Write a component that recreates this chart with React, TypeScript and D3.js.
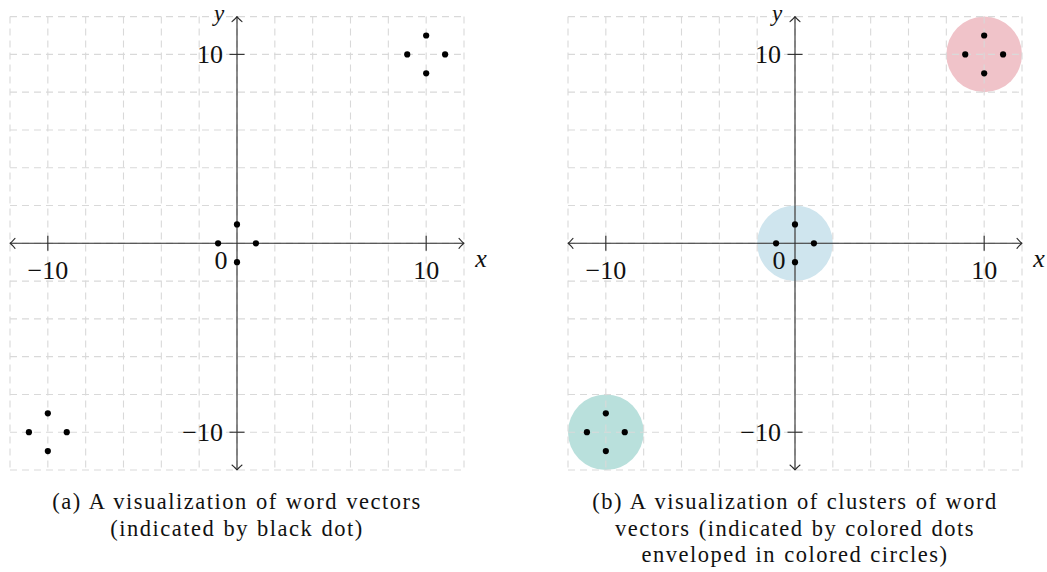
import React from "react";
import * as d3 from "d3";

// Word vector coordinates (shared by both panels)
const vectorX = [0, 0, -1, 1, 9, 11, 10, 10, -11, -9, -10, -10];
const vectorY = [1, -1, 0, 0, 10, 10, 11, 9, -10, -10, -9, -11];

// Cluster envelopes for panel (b)
const clusterX = [10, 0, -10];
const clusterY = [10, 0, -10];
const clusterR = [2, 2, 2];

// Axis settings
const axisMin = -12;
const axisMax = 12;
const gridStep = 2;
const tickValues = [-10, 10];

const captionA = ["(a) A visualization of word vectors", "(indicated by black dot)"];
const captionB = [
  "(b) A visualization of clusters of word",
  "vectors (indicated by colored dots",
  "enveloped in colored circles)",
];

const clusterColors = ["#f0c3c9", "#cfe5ee", "#b9e0dc"];
const SERIF = "'Liberation Serif', 'DejaVu Serif', serif";
const AXIS = "#2b2b2b";
const GRID = "#d9d9d9";

type PanelProps = {
  left: number;
  right: number;
  showClusters: boolean;
  caption: string[];
};

function Panel({ left, right, showClusters, caption }: PanelProps) {
  const x = d3.scaleLinear().domain([axisMin, axisMax]).range([left, right]);
  const y = d3.scaleLinear().domain([axisMin, axisMax]).range([470, 16.6]);
  const gridVals = d3.range(axisMin, axisMax + 0.001, gridStep);
  const x0 = x(0);
  const y0 = y(0);
  const tk = 7.5;
  const ah = 5; // arrowhead size
  const cx = (x(axisMin) + x(axisMax)) / 2;

  return (
    <g>
      {showClusters &&
        clusterX.map((cxv, i) => (
          <circle
            key={"c" + i}
            cx={x(cxv)}
            cy={y(clusterY[i])}
            r={x(clusterR[i]) - x(0)}
            fill={clusterColors[i]}
          />
        ))}
      {/* dashed grid */}
      {gridVals.map((v) => (
        <line
          key={"gv" + v}
          x1={x(v)}
          x2={x(v)}
          y1={y(axisMax)}
          y2={y(axisMin)}
          stroke={GRID}
          strokeWidth={1.1}
          strokeDasharray="7 5"
        />
      ))}
      {gridVals.map((v) => (
        <line
          key={"gh" + v}
          x1={x(axisMin)}
          x2={x(axisMax)}
          y1={y(v)}
          y2={y(v)}
          stroke={GRID}
          strokeWidth={1.1}
          strokeDasharray="7 5"
        />
      ))}
      {/* axes */}
      <line x1={x(axisMin)} x2={x(axisMax)} y1={y0} y2={y0} stroke={AXIS} strokeWidth={1.1} />
      <line x1={x0} x2={x0} y1={y(axisMax)} y2={y(axisMin)} stroke={AXIS} strokeWidth={1.1} />
      <g fill="none" stroke={AXIS} strokeWidth={1.1} strokeLinecap="round" strokeLinejoin="round">
        <path d={`M${x(axisMax) - ah},${y0 - ah} Q${x(axisMax) - 1.5},${y0 - 1} ${x(axisMax)},${y0} Q${x(axisMax) - 1.5},${y0 + 1} ${x(axisMax) - ah},${y0 + ah}`} />
        <path d={`M${x(axisMin) + ah},${y0 - ah} Q${x(axisMin) + 1.5},${y0 - 1} ${x(axisMin)},${y0} Q${x(axisMin) + 1.5},${y0 + 1} ${x(axisMin) + ah},${y0 + ah}`} />
        <path d={`M${x0 - ah},${y(axisMax) + ah} Q${x0 - 1},${y(axisMax) + 1.5} ${x0},${y(axisMax)} Q${x0 + 1},${y(axisMax) + 1.5} ${x0 + ah},${y(axisMax) + ah}`} />
        <path d={`M${x0 - ah},${y(axisMin) - ah} Q${x0 - 1},${y(axisMin) - 1.5} ${x0},${y(axisMin)} Q${x0 + 1},${y(axisMin) - 1.5} ${x0 + ah},${y(axisMin) - ah}`} />
      </g>
      {/* ticks */}
      {tickValues.map((v) => (
        <g key={"t" + v}>
          <line x1={x(v)} x2={x(v)} y1={y0 - tk} y2={y0 + tk} stroke={AXIS} strokeWidth={1.1} />
          <line x1={x0 - tk} x2={x0 + tk} y1={y(v)} y2={y(v)} stroke={AXIS} strokeWidth={1.1} />
          <text
            x={x(v)}
            y={y0 + 36}
            textAnchor="middle"
            fontFamily={SERIF}
            fontSize={26}
            fill="#111"
          >
            {v < 0 ? "\u2212" + Math.abs(v) : String(v)}
          </text>
          <text
            x={x0 - 14}
            y={y(v) + 9}
            textAnchor="end"
            fontFamily={SERIF}
            fontSize={26}
            fill="#111"
          >
            {v < 0 ? "\u2212" + Math.abs(v) : String(v)}
          </text>
        </g>
      ))}
      <text x={x0 - 16} y={y0 + 26} textAnchor="middle" fontFamily={SERIF} fontSize={26} fill="#111">
        0
      </text>
      <text x={x(axisMax) + 17} y={y0 + 24} textAnchor="middle" fontFamily={SERIF} fontStyle="italic" fontSize={26} fill="#111">
        x
      </text>
      <text x={x0 - 18} y={21} textAnchor="middle" fontFamily={SERIF} fontStyle="italic" fontSize={23} fill="#111">
        y
      </text>
      {/* word vectors */}
      {vectorX.map((vx, i) => (
        <circle key={"p" + i} cx={x(vx)} cy={y(vectorY[i])} r={3.1} fill="#000" />
      ))}
      {/* caption */}
      <text
        textAnchor="middle"
        fontFamily={SERIF}
        fontSize={22.5}
        letterSpacing={1.5}
        wordSpacing={1}
        fill="#111"
      >
        {caption.map((line, i) => (
          <tspan key={i} x={cx} y={509 + i * 26.5}>
            {line}
          </tspan>
        ))}
      </text>
    </g>
  );
}

export default function App() {
  return (
    <svg
      width={1047}
      height={572}
      style={{ position: "absolute", left: 0, top: 0, background: "#fff" }}
    >
      <rect width={1047} height={572} fill="#fff" />
      <Panel left={10} right={464} showClusters={false} caption={captionA} />
      <Panel left={568} right={1022} showClusters={true} caption={captionB} />
    </svg>
  );
}
